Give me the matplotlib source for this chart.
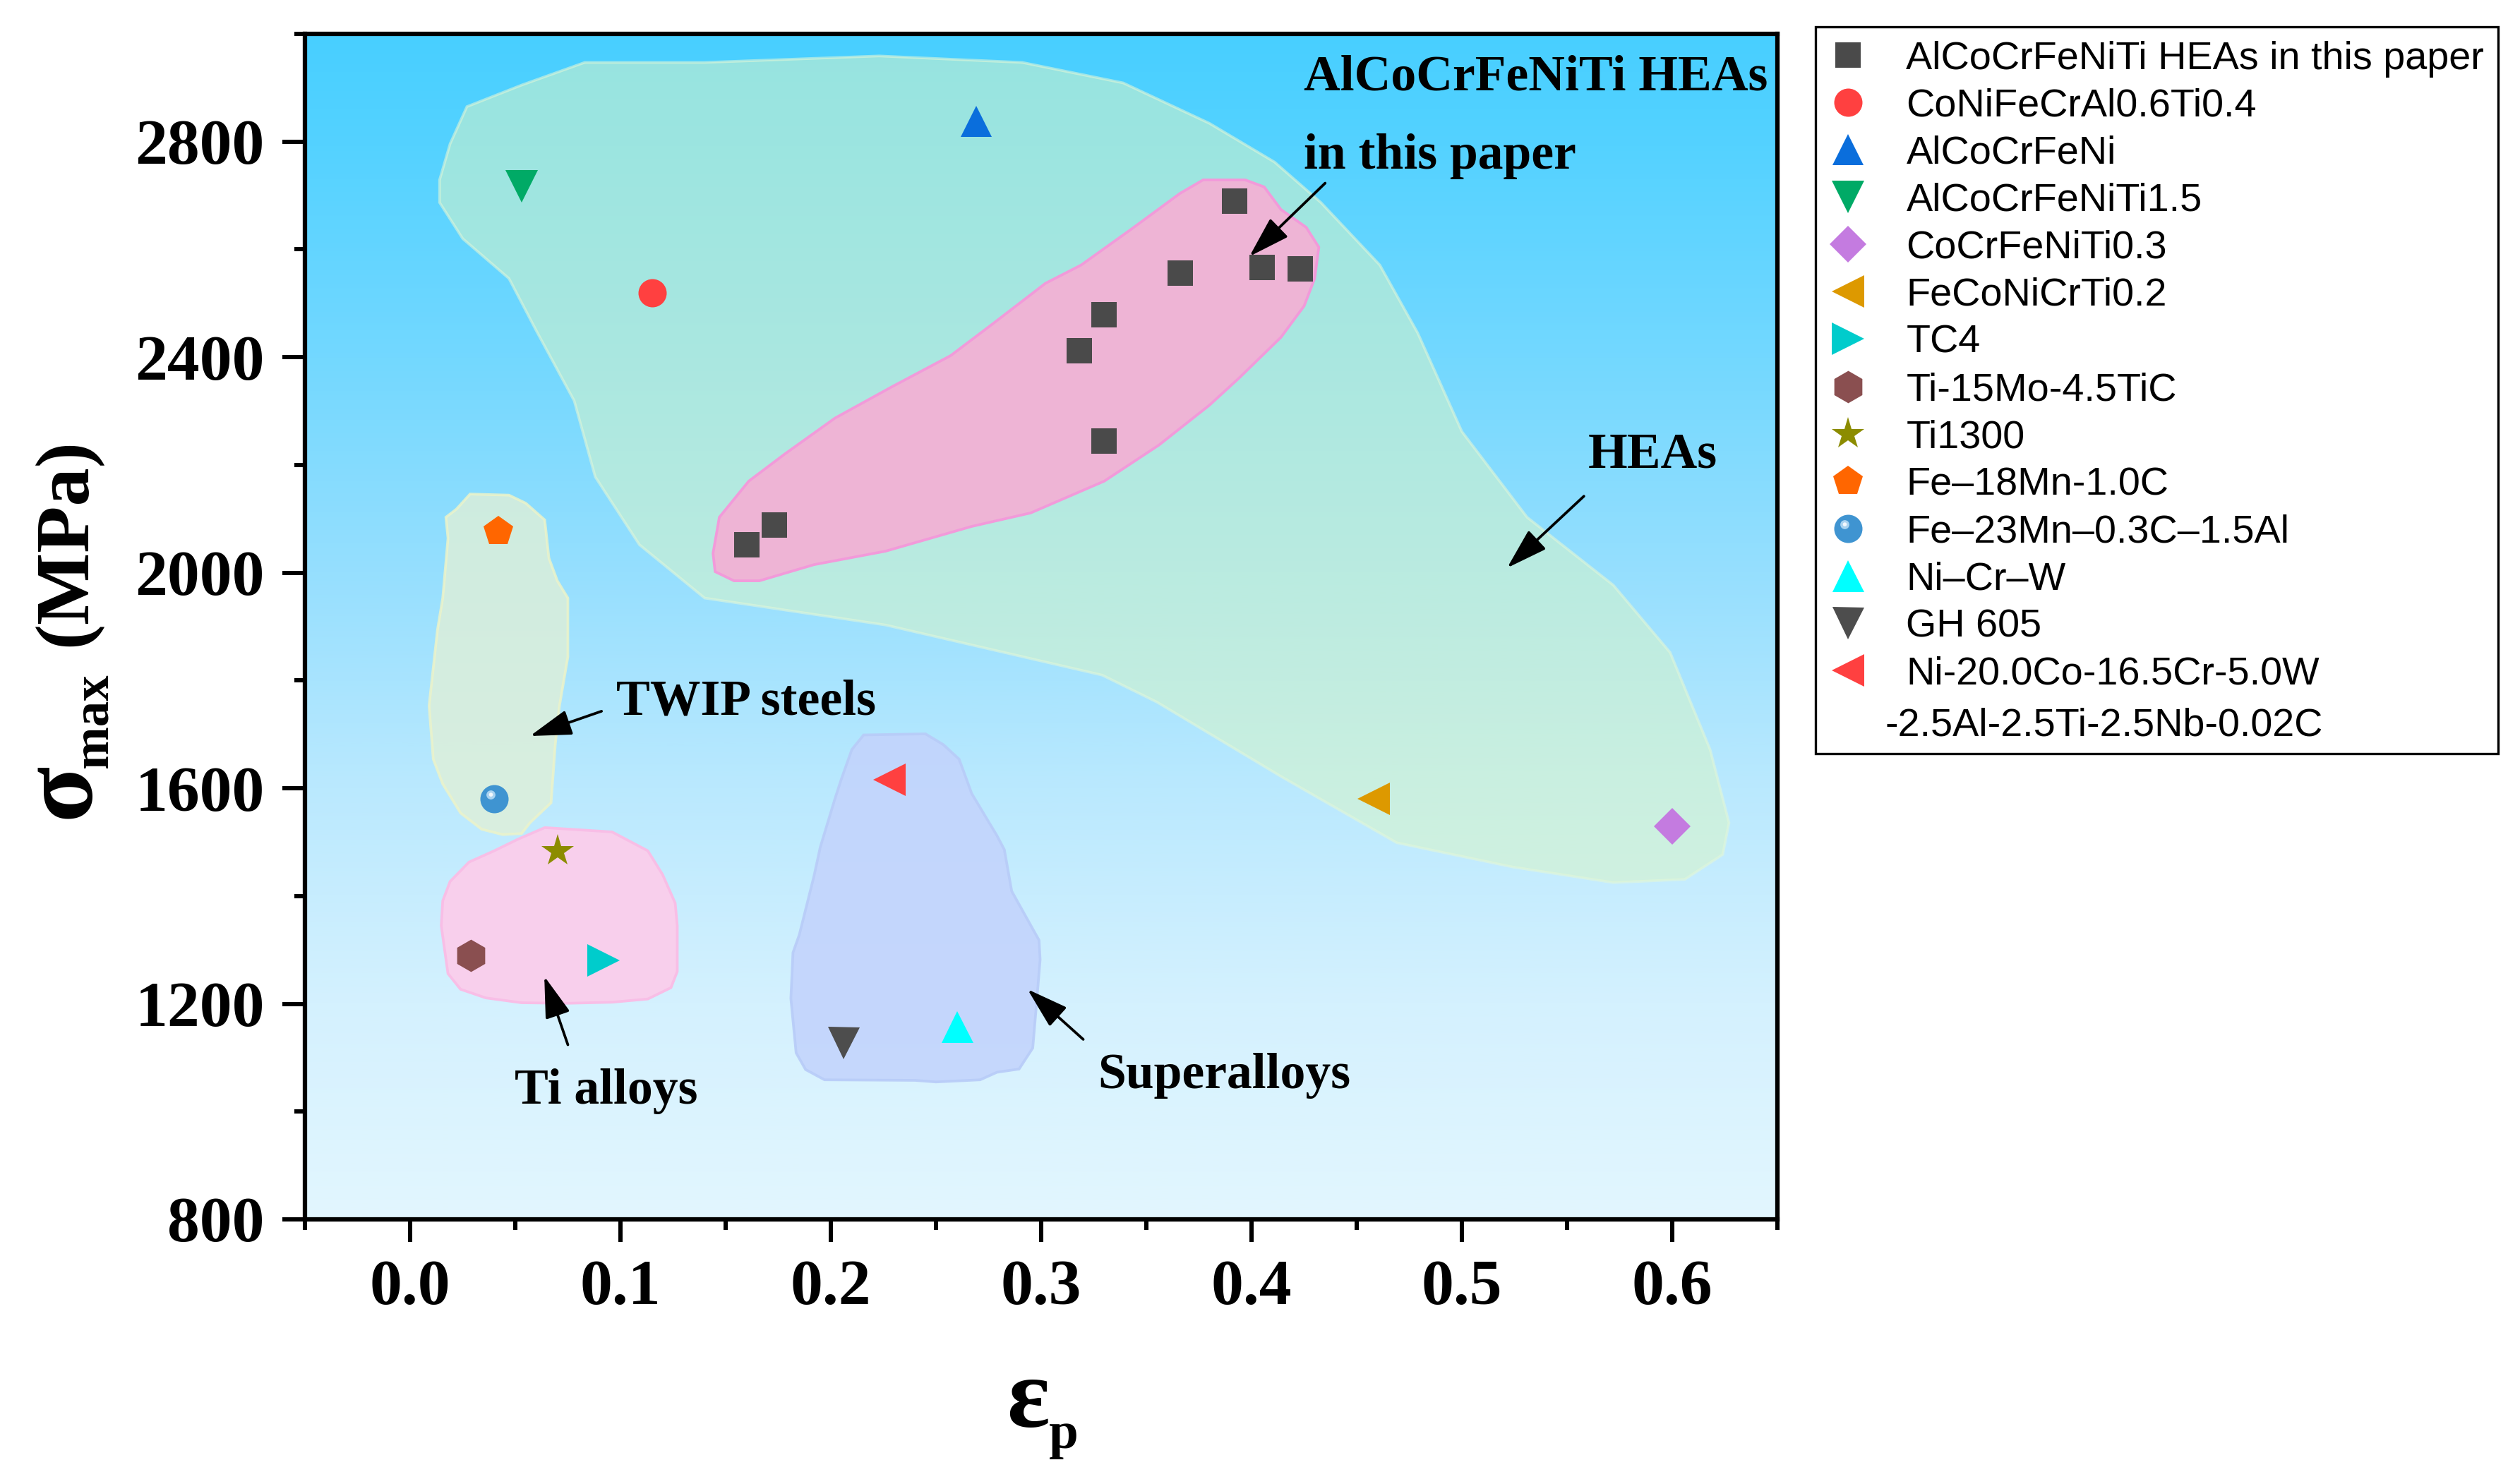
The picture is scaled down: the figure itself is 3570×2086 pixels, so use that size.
import numpy as np
import matplotlib
matplotlib.use('Agg')
import matplotlib.pyplot as plt
from matplotlib.colors import LinearSegmentedColormap, Normalize
from matplotlib.path import Path
from matplotlib.legend_handler import HandlerTuple
from matplotlib.lines import Line2D

# ---------------- data ----------------
this_x = [0.160, 0.173, 0.318, 0.330, 0.330, 0.366, 0.392, 0.405, 0.423]
this_y = [2052, 2089, 2412, 2479, 2245, 2556, 2690, 2566, 2564]

coni_x, coni_y = [0.115], [2520]
alco_x, alco_y = [0.269], [2838]
alti15_x, alti15_y = [0.053], [2717]
cocrti_x, cocrti_y = [0.600], [1530]
fecoti_x, fecoti_y = [0.458], [1580]
tc4_x, tc4_y = [0.092], [1280]
ti15_x, ti15_y = [0.029], [1290]
ti1300_x, ti1300_y = [0.070], [1484]
fe18_x, fe18_y = [0.042], [2077]
fe23_x, fe23_y = [0.040], [1581]
nicrw_x, nicrw_y = [0.260], [1157]
gh605_x, gh605_y = [0.206], [1127]
ni20_x, ni20_y = [0.228], [1616]

labels = ["AlCoCrFeNiTi HEAs in this paper", "CoNiFeCrAl0.6Ti0.4", "AlCoCrFeNi",
          "AlCoCrFeNiTi1.5", "CoCrFeNiTi0.3", "FeCoNiCrTi0.2", "TC4", "Ti-15Mo-4.5TiC",
          "Ti1300", "Fe\u201318Mn-1.0C", "Fe\u201323Mn\u20130.3C\u20131.5Al", "Ni\u2013Cr\u2013W",
          "GH 605", "Ni-20.0Co-16.5Cr-5.0W", " "]
label_cont = "-2.5Al-2.5Ti-2.5Nb-0.02C"

x_ticks = [0.0, 0.1, 0.2, 0.3, 0.4, 0.5, 0.6]
x_tick_labels = ["0.0", "0.1", "0.2", "0.3", "0.4", "0.5", "0.6"]
y_ticks = [800, 1200, 1600, 2000, 2400, 2800]
y_tick_labels = ["800", "1200", "1600", "2000", "2400", "2800"]

# region outlines
hea_region = [(0.083, 2947), (0.053, 2905), (0.027, 2865), (0.019, 2796), (0.014, 2729),
              (0.014, 2687), (0.025, 2620), (0.047, 2546), (0.060, 2449), (0.078, 2319),
              (0.088, 2178), (0.109, 2052), (0.140, 1953), (0.226, 1903), (0.329, 1810),
              (0.355, 1760), (0.414, 1622), (0.469, 1499), (0.524, 1454), (0.572, 1425),
              (0.606, 1431), (0.624, 1477), (0.627, 1536), (0.618, 1672), (0.599, 1852),
              (0.572, 1977), (0.531, 2103), (0.500, 2262), (0.479, 2445), (0.461, 2571),
              (0.433, 2687), (0.411, 2762), (0.380, 2834), (0.339, 2909), (0.291, 2947),
              (0.223, 2959), (0.140, 2947)]
paper_region = [(0.377, 2729), (0.397, 2729), (0.406, 2716), (0.414, 2674), (0.426, 2641),
                (0.432, 2604), (0.430, 2546), (0.425, 2495), (0.414, 2437), (0.394, 2361),
                (0.380, 2311), (0.356, 2237), (0.330, 2170), (0.295, 2111), (0.267, 2086),
                (0.226, 2040), (0.192, 2015), (0.166, 1985), (0.154, 1985), (0.145, 2002),
                (0.144, 2036), (0.147, 2103), (0.161, 2170), (0.178, 2220), (0.202, 2287),
                (0.229, 2345), (0.257, 2403), (0.277, 2462), (0.302, 2537), (0.319, 2571),
                (0.343, 2638), (0.366, 2704)]
twip_region = [(0.0285, 2146), (0.047, 2144), (0.055, 2129), (0.064, 2098), (0.066, 2027),
               (0.070, 1985), (0.075, 1953), (0.075, 1844), (0.071, 1753), (0.069, 1681),
               (0.068, 1626), (0.067, 1573), (0.057, 1536), (0.053, 1516), (0.044, 1514),
               (0.034, 1524), (0.024, 1554), (0.0155, 1608), (0.011, 1654), (0.009, 1753),
               (0.013, 1894), (0.0155, 1953), (0.018, 2064), (0.017, 2103), (0.022, 2118)]
ti_region = [(0.064, 1527), (0.096, 1519), (0.113, 1484), (0.120, 1440), (0.126, 1387),
             (0.127, 1345), (0.127, 1260), (0.124, 1230), (0.113, 1209), (0.096, 1203),
             (0.0745, 1201), (0.053, 1202), (0.036, 1211), (0.024, 1227), (0.018, 1256),
             (0.0148, 1345), (0.0155, 1391), (0.019, 1427), (0.028, 1463), (0.040, 1484),
             (0.051, 1505)]
super_region = [(0.2156, 1699), (0.245, 1701), (0.2535, 1681), (0.261, 1654), (0.267, 1590),
                (0.279, 1512), (0.2825, 1486), (0.286, 1409), (0.299, 1318), (0.2995, 1282),
                (0.298, 1210), (0.296, 1118), (0.2895, 1079), (0.279, 1073), (0.271, 1059),
                (0.250, 1055), (0.240, 1058), (0.197, 1059), (0.188, 1078), (0.1835, 1109),
                (0.181, 1210), (0.182, 1295), (0.185, 1328), (0.192, 1437), (0.195, 1491),
                (0.202, 1581), (0.205, 1617), (0.210, 1672)]

# annotations: text, text position, arrow tail, arrow head
ann_texts = ["AlCoCrFeNiTi HEAs", "in this paper", "HEAs", "TWIP steels", "Ti alloys", "Superalloys"]
ann_pos = [(0.425, 2896), (0.425, 2750), (0.560, 2195), (0.098, 1737), (0.0497, 1015), (0.327, 1044)]
arrow_tail = [(0.435, 2723), (0.558, 2142), (0.091, 1743), (0.075, 1124), (0.320, 1134)]
arrow_head = [(0.399, 2587), (0.5215, 2009), (0.057, 1697), (0.0638, 1251), (0.2935, 1227)]

# ---------------- figure ----------------
W, H, DPI = 3570, 2086, 300
fig = plt.figure(figsize=(W / DPI, H / DPI), dpi=DPI)
ax = fig.add_axes([432 / W, 1 - 1728 / H, (2518 - 432) / W, (1728 - 48) / H])
ax.set_xlim(-0.05, 0.65)
ax.set_ylim(800, 3000)

SERIF = 'Liberation Serif'
SANS = 'Liberation Sans'

# background gradient
grad_stops = [(0.0, (226, 246, 254)), (400 / 2200, (212, 241, 254)), (800 / 2200, (186, 233, 254)),
              (1200 / 2200, (150, 223, 254)), (1600 / 2200, (115, 216, 255)),
              (2000 / 2200, (84, 210, 255)), (1.0, (72, 207, 255))]
cmap = LinearSegmentedColormap.from_list('bg', [(p, tuple(v / 255 for v in c)) for p, c in grad_stops])
grad = np.linspace(800, 3000, 600).reshape(-1, 1)
ax.imshow(grad, extent=[-0.05, 0.65, 800, 3000], origin='lower', aspect='auto',
          cmap=cmap, norm=Normalize(800, 3000), zorder=0, interpolation='bilinear')

def fill_region(pts, fc, ec, alpha, z):
    xs = [p[0] for p in pts]
    ys = [p[1] for p in pts]
    ax.fill(xs, ys, facecolor=fc, edgecolor=ec, alpha=alpha, lw=0.9, zorder=z)

fill_region(hea_region, '#D8F5C8', '#E4F8D8', 0.55, 1)
fill_region(twip_region, '#E0F0D8', '#EEF4C8', 0.8, 1)
fill_region(ti_region, '#F8CFEC', '#F8BEE6', 1.0, 1)
fill_region(super_region, '#C3D4FC', '#B8CCF8', 0.9, 1)
fill_region(paper_region, '#EEB4D5', '#F29ADA', 1.0, 2)

# markers
h = []
kw = dict(linestyle='none', zorder=4, markeredgewidth=0)
h.append(ax.plot(this_x, this_y, marker='s', ms=8.7, color='#4A4A4A', **kw)[0])
h.append(ax.plot(coni_x, coni_y, marker='o', ms=9.6, color='#FF4040', **kw)[0])
h.append(ax.plot(alco_x, alco_y, marker='^', ms=10.5, color='#0A6EDC', **kw)[0])
h.append(ax.plot(alti15_x, alti15_y, marker='v', ms=11, color='#00AA66', **kw)[0])
h.append(ax.plot(cocrti_x, cocrti_y, marker='D', ms=8.8, color='#C47BE0', **kw)[0])
h.append(ax.plot(fecoti_x, fecoti_y, marker='<', ms=11, color='#DD9900', **kw)[0])
h.append(ax.plot(tc4_x, tc4_y, marker='>', ms=11, color='#00CCCC', **kw)[0])
h.append(ax.plot(ti15_x, ti15_y, marker='h', ms=11, color='#8A4F50', **kw)[0])
h.append(ax.plot(ti1300_x, ti1300_y, marker='*', ms=11.5, color='#8C8C00', **kw)[0])
h.append(ax.plot(fe18_x, fe18_y, marker='p', ms=10.8, color='#FF6600', **kw)[0])
# sphere marker: base circle + highlight
circ = Path.circle(center=(-0.25, 0.3), radius=0.32)
hl_path = Path(np.vstack([circ.vertices, [[1, 1], [-1, -1]]]),
               np.concatenate([circ.codes, [Path.MOVETO, Path.MOVETO]]))
circ2 = Path.circle(center=(-0.25, 0.32), radius=0.14)
hl_path2 = Path(np.vstack([circ2.vertices, [[1, 1], [-1, -1]]]),
                np.concatenate([circ2.codes, [Path.MOVETO, Path.MOVETO]]))
s1 = ax.plot(fe23_x, fe23_y, marker='o', ms=9.6, color='#3F94D1', **kw)[0]
s2 = ax.plot(fe23_x, fe23_y, marker=hl_path, ms=9.6, color='#A9D3F0', linestyle='none',
             zorder=5, markeredgewidth=0)[0]
s3 = ax.plot(fe23_x, fe23_y, marker=hl_path2, ms=9.6, color='#F2F8FD', linestyle='none',
             zorder=6, markeredgewidth=0)[0]
h.append((s1, s2, s3))
h.append(ax.plot(nicrw_x, nicrw_y, marker='^', ms=10.8, color='#00FFFF', **kw)[0])
h.append(ax.plot(gh605_x, gh605_y, marker='v', ms=10.8, color='#4D4D4D', **kw)[0])
h.append(ax.plot(ni20_x, ni20_y, marker='<', ms=11, color='#FF4040', **kw)[0])
h.append(Line2D([], [], linestyle='none', marker=None))

# annotations
for t, p in zip(ann_texts, ann_pos):
    ax.text(p[0], p[1], t, fontfamily=SERIF, fontweight='bold', fontsize=17.2,
            ha='left', va='baseline', zorder=7)
for tl, hd in zip(arrow_tail, arrow_head):
    ax.annotate('', xy=hd, xytext=tl,
                arrowprops=dict(arrowstyle='-|>,head_length=0.55,head_width=0.17', color='k',
                                lw=0.9, shrinkA=0, shrinkB=0, mutation_scale=22), zorder=7)

# axes styling
for s in ax.spines.values():
    s.set_linewidth(1.5)
    s.set_zorder(8)
ax.set_xticks(x_ticks)
ax.set_xticklabels(x_tick_labels)
ax.set_yticks(y_ticks)
ax.set_yticklabels(y_tick_labels)
ax.set_xticks(np.arange(-0.05, 0.66, 0.1), minor=True)
ax.set_yticks(np.arange(1000, 3001, 400), minor=True)
ax.tick_params(which='major', direction='out', length=7.7, width=1.45, pad=6)
ax.tick_params(which='minor', direction='out', length=3.7, width=1.45)
ax.tick_params(top=False, right=False, which='both')
for lab in ax.get_xticklabels() + ax.get_yticklabels():
    lab.set_fontfamily(SERIF)
    lab.set_fontweight('bold')
    lab.set_fontsize(22)

# axis labels built from pieces
def ftext(px, py, s, size, rot=0):
    fig.text(px / W, 1 - py / H, s, fontfamily=SERIF, fontweight='bold', fontsize=size,
             rotation=rot, rotation_mode='anchor', ha='left', va='baseline')

ftext(125, 1160, '\u03c3', 35, 90)
ftext(152, 1088, 'max', 17.5, 90)
ftext(121, 916, '(MPa)', 26, 90)
ftext(1426, 2022, '\u03b5', 34)
ftext(1486, 2052, 'p', 18)

# legend
leg = fig.legend(h, labels, loc='upper left', bbox_to_anchor=(2572 / W, 1 - 38 / H),
                 bbox_transform=fig.transFigure, borderaxespad=0, frameon=True, fancybox=False,
                 framealpha=1, edgecolor='black', borderpad=0.35, handlelength=0.95,
                 handletextpad=1.0, labelspacing=0.27,
                 prop={'family': SANS, 'size': 13.4},
                 handler_map={tuple: HandlerTuple(ndivide=1, pad=0)})
leg.get_frame().set_linewidth(0.8)

# continuation line of the last legend label, shifted left like the original
fig.canvas.draw()
r = fig.canvas.get_renderer()
texts = leg.get_texts()
prev_bb = texts[-2].get_window_extent(r)
last_bb = texts[-1].get_window_extent(r)
fig.text((prev_bb.x0 - 30) / W, (last_bb.y0 + last_bb.y1) / 2 / H, label_cont,
         fontfamily=SANS, fontsize=13.4, ha='left', va='center_baseline', zorder=10)

fig.savefig('out.png', dpi=DPI)
